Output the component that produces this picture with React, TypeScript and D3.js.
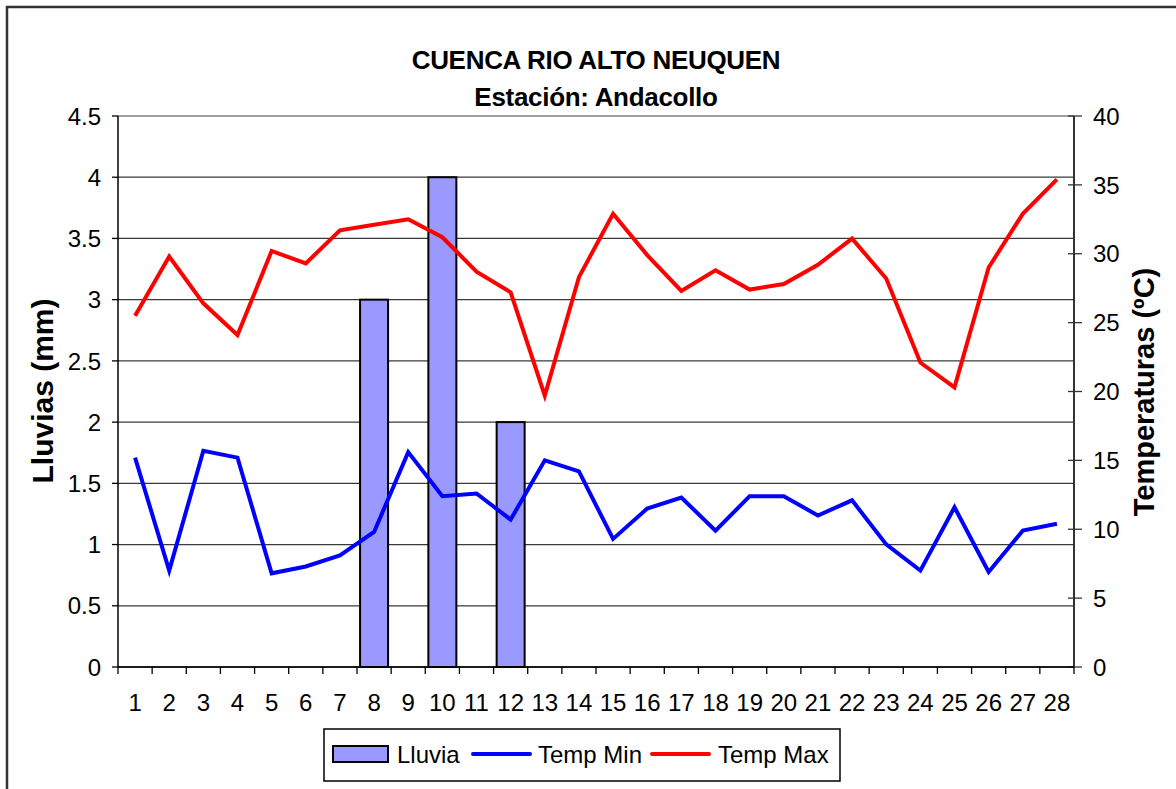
import React from "react";
import * as d3 from "d3";

const days = d3.range(1, 29).map(String);
const lluvia = [0, 0, 0, 0, 0, 0, 0, 3, 0, 4, 0, 2, 0, 0, 0, 0, 0, 0, 0, 0, 0, 0, 0, 0, 0, 0, 0, 0];
const tempMin = [15.2, 7.0, 15.7, 15.2, 6.8, 7.3, 8.1, 9.8, 15.6, 12.4, 12.6, 10.7, 15.0, 14.2, 9.3, 11.5, 12.3, 9.9, 12.4, 12.4, 11.0, 12.1, 8.9, 7.0, 11.6, 6.9, 9.9, 10.4];
const tempMax = [25.5, 29.8, 26.4, 24.1, 30.2, 29.3, 31.7, 32.1, 32.5, 31.2, 28.7, 27.2, 19.7, 28.3, 32.9, 29.9, 27.3, 28.8, 27.4, 27.8, 29.2, 31.1, 28.2, 22.1, 20.3, 29.0, 32.9, 35.4];
const leftTicks = [0, 0.5, 1, 1.5, 2, 2.5, 3, 3.5, 4, 4.5];
const rightTicks = [0, 5, 10, 15, 20, 25, 30, 35, 40];

const FONT = "'Liberation Sans', Arial, sans-serif";

export default function App() {
  const W = 1176, H = 789;
  const L = 118, R = 1074, T = 116, B = 667;
  const x = d3.scaleBand<string>().domain(days).range([L, R]);
  const xStep = x.step();
  const cx = (d: string) => (x(d) as number) + x.bandwidth() / 2;
  const yL = d3.scaleLinear().domain([0, 4.5]).range([B, T]);
  const yR = d3.scaleLinear().domain([0, 40]).range([B, T]);
  const barW = xStep * 0.82;

  const line = d3.line<number>().x((_, i) => cx(days[i])).y((d) => yR(d));

  return (
    <svg width={W} height={H} style={{ position: "absolute", left: 0, top: 0 }} fontFamily={FONT}>
      <rect x={0} y={0} width={W} height={H} fill="#fff" />
      <path d={`M7,${H + 5} V7 H${W + 5}`} fill="none" stroke="#333" strokeWidth={2.5} />

      <text x={596} y={69} textAnchor="middle" fontSize={26} fontWeight="bold" letterSpacing={-0.3}>CUENCA RIO ALTO NEUQUEN</text>
      <text x={596} y={106} textAnchor="middle" fontSize={26} fontWeight="bold" letterSpacing={-0.3}>Estación: Andacollo</text>

      {leftTicks.map((t) => (
        <line key={"g" + t} x1={L} x2={R} y1={yL(t)} y2={yL(t)} stroke={t === 4.5 ? "#808080" : "#3a3a3a"} strokeWidth={1.3} />
      ))}

      {lluvia.map((v, i) =>
        v > 0 ? (
          <rect key={"b" + i} x={cx(days[i]) - barW / 2} y={yL(v)} width={barW} height={yL(0) - yL(v)} fill="#9999FF" stroke="#000" strokeWidth={2} />
        ) : null
      )}

      <path d={line(tempMax) || ""} fill="none" stroke="#FF0000" strokeWidth={4} />
      <path d={line(tempMin) || ""} fill="none" stroke="#0000FF" strokeWidth={4} />

      <line x1={L} x2={L} y1={T} y2={B} stroke="#000" strokeWidth={1.5} />
      {leftTicks.map((t) => (
        <g key={"l" + t}>
          <line x1={L - 6} x2={L} y1={yL(t)} y2={yL(t)} stroke="#000" strokeWidth={1.3} />
          <text x={101} y={yL(t)} dy="0.36em" textAnchor="end" fontSize={24}>{String(t)}</text>
        </g>
      ))}

      <line x1={R} x2={R} y1={T} y2={B} stroke="#333" strokeWidth={2} />
      {rightTicks.map((t) => (
        <g key={"r" + t}>
          <line x1={R - 6} x2={R + 8} y1={yR(t)} y2={yR(t)} stroke="#333" strokeWidth={1.3} />
          <text x={1093} y={yR(t)} dy="0.36em" textAnchor="start" fontSize={24}>{String(t)}</text>
        </g>
      ))}

      <line x1={L} x2={R} y1={B} y2={B} stroke="#000" strokeWidth={1.5} />
      {d3.range(0, days.length + 1).map((i) => (
        <line key={"xt" + i} x1={L + i * xStep} x2={L + i * xStep} y1={B} y2={B + 7} stroke="#000" strokeWidth={1.3} />
      ))}
      {days.map((d) => (
        <text key={"xl" + d} x={cx(d)} y={711} textAnchor="middle" fontSize={24}>{d}</text>
      ))}

      <text transform={`translate(53,391) rotate(-90)`} textAnchor="middle" fontSize={30} fontWeight="bold">Lluvias (mm)</text>
      <text transform={`translate(1154,392) rotate(-90)`} textAnchor="middle" fontSize={29} fontWeight="bold">Temperaturas (ºC)</text>

      <rect x={324} y={729} width={516} height={52} fill="#fff" stroke="#000" strokeWidth={1.5} />
      <rect x={333} y={746} width={55} height={16} fill="#9999FF" stroke="#000" strokeWidth={2} />
      <text x={397} y={754} dy="0.36em" fontSize={24}>Lluvia</text>
      <line x1={473} x2={530} y1={754} y2={754} stroke="#0000FF" strokeWidth={4} strokeLinecap="round" />
      <text x={538} y={754} dy="0.36em" fontSize={24}>Temp Min</text>
      <line x1={652} x2={709} y1={754} y2={754} stroke="#FF0000" strokeWidth={4} strokeLinecap="round" />
      <text x={718} y={754} dy="0.36em" fontSize={24}>Temp Max</text>
    </svg>
  );
}
